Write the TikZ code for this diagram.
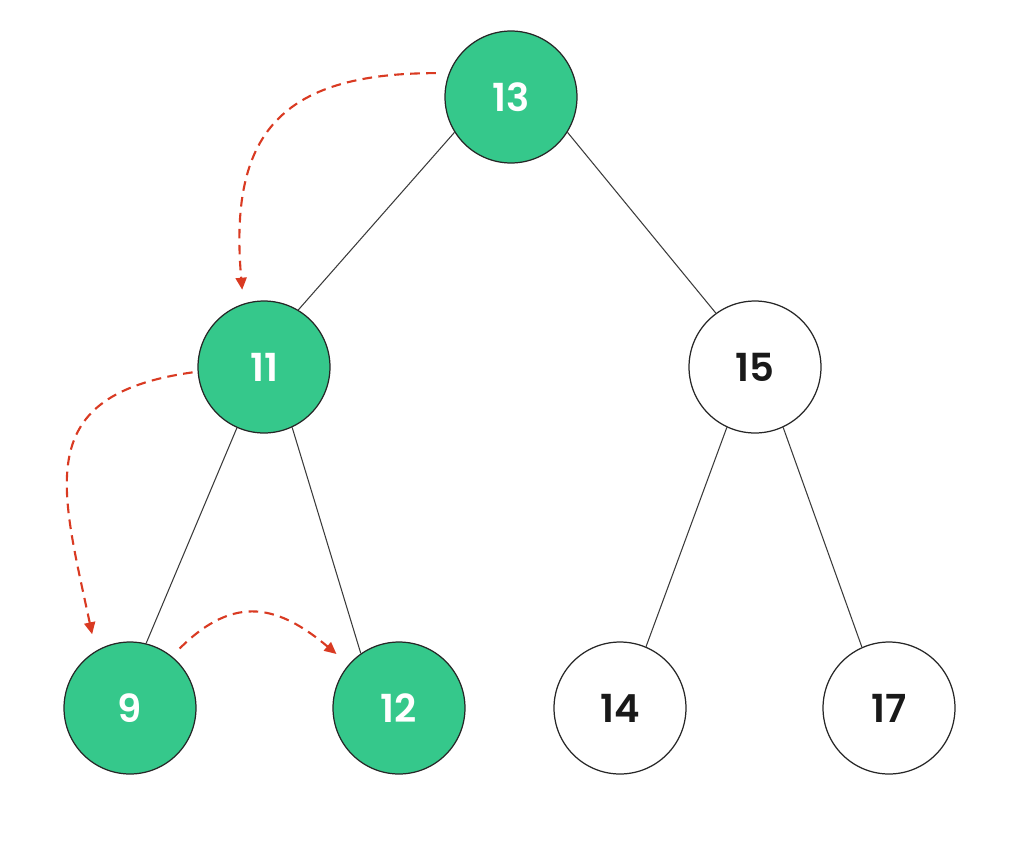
\documentclass[tikz,border=0pt]{standalone}
\usepackage{fontspec}
\setmainfont{Poppins}[BoldFont={Poppins SemiBold}]
\usepackage{tikz}
\usetikzlibrary{arrows.meta}
\definecolor{tgreen}{HTML}{35C88B}
\definecolor{tred}{HTML}{D93A22}
\definecolor{tline}{HTML}{3A3A3A}

\begin{document}
\begin{tikzpicture}[x=0.02cm, y=-0.02cm,
  key/.style={circle, draw=black!85, line width=0.7pt, minimum size=2.64cm, inner sep=0pt,
    font=\fontsize{22}{26}\selectfont\bfseries},
  visited/.style={key, fill=tgreen, text=white},
  plain/.style={key, fill=white, text=black!90},
  edge/.style={draw=tline, line width=0.6pt},
  hop/.style={draw=tred, line width=1.2pt, dash pattern=on 5.5pt off 3.6pt,
    -{Triangle[length=0.24cm, width=0.22cm]}}]
\useasboundingbox (0,0) rectangle (1024,846);
% nodes of the tree
\node[visited] (n13) at (511,97) {13};
\node[visited] (n11) at (264,367) {11};
\node[plain]   (n15) at (755,367) {15};
\node[visited] (n9)  at (130,708) {9};
\node[visited] (n12) at (399,708) {12};
\node[plain]   (n14) at (620,708) {14};
\node[plain]   (n17) at (889,708) {17};
% tree edges
\draw[edge] (n13.212) -- (n11.59);
\draw[edge] (n13.328) -- (n15.126);
\draw[edge] (n11.246) -- (n9.76);
\draw[edge] (n11.295) -- (n12.125);
\draw[edge] (n15.245) -- (n14.67);
\draw[edge] (n15.295) -- (n17.114);
% search path
\draw[hop, shorten <=0.26cm, shorten >=0.28cm] (n13.159) to[out=180, in=95, looseness=1.4] (n11.108);
\draw[hop, shorten <=0.1cm, shorten >=0.34cm] (n11.184) to[out=188, in=102, looseness=1.45] (n9.121);
\draw[hop, shorten <=0.22cm, shorten >=0.32cm] (n9.51) to[out=45, in=140, looseness=1.3] (n12.139);
\end{tikzpicture}
\end{document}
